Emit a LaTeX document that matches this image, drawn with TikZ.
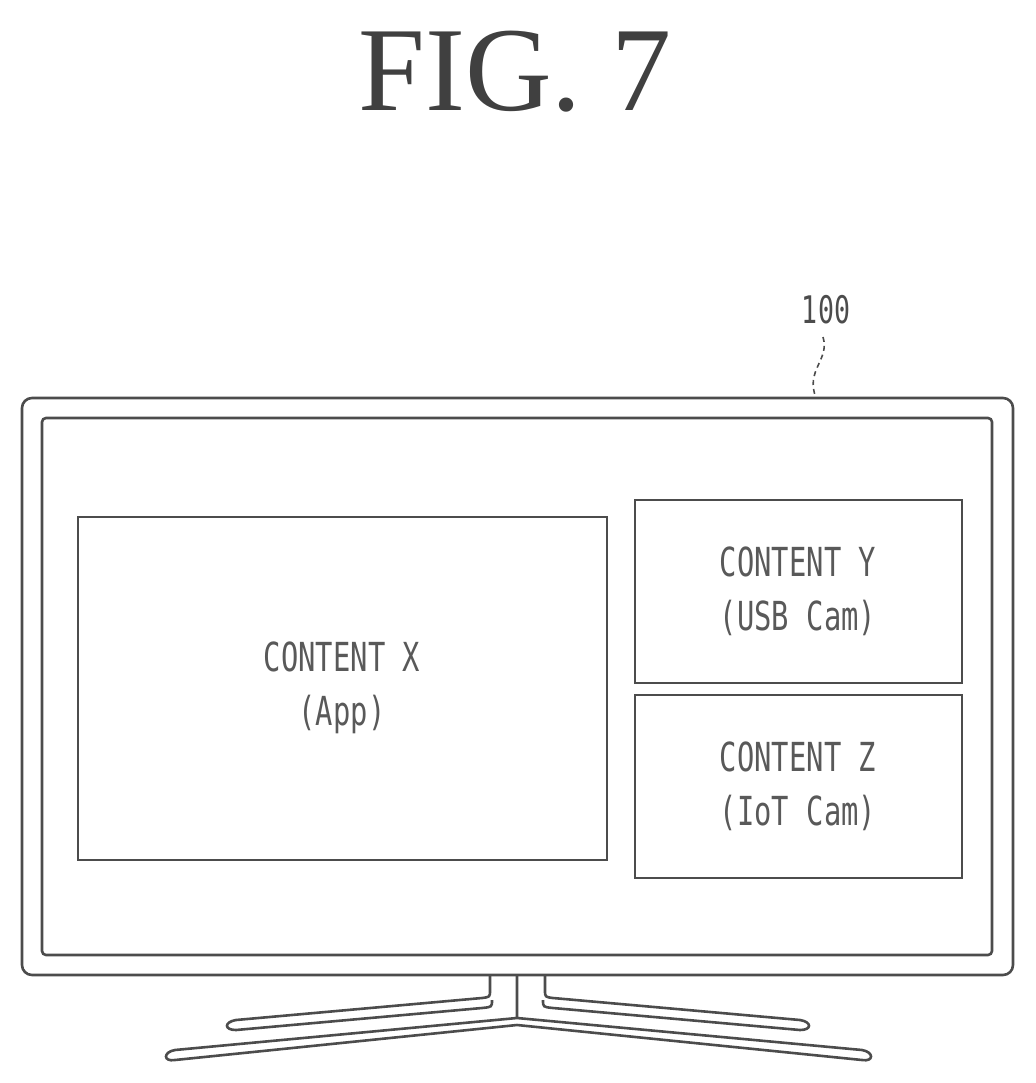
\documentclass[tikz,border=0pt]{standalone}
\usepackage{fontspec}
\setmainfont{Liberation Serif}
\setsansfont{DejaVu Sans Mono}
\begin{document}
\begin{tikzpicture}[x=1pt,y=-1pt,
  ln/.style={line width=2.6pt,draw=black!70},
  box/.style={ln,rectangle},
  lbl/.style={font=\sffamily\fontsize{40}{54}\selectfont,text=black!65,align=center,xscale=0.72}]
\useasboundingbox (0,0) rectangle (1035,1083);
\node[font=\fontsize{120}{120}\selectfont,text=black!75] (title) at (515,72) {FIG. 7};
\draw[ln,rounded corners=10] (22,398) rectangle (1013,975);
\draw[ln,rounded corners=4] (42,418) rectangle (992,955);
\draw[box] (78,517) rectangle (607,860);
\draw[box] (635,500) rectangle (962,683);
\draw[box] (635,695) rectangle (962,878);
\node[lbl] (x) at (342,688) {CONTENT X\\(App)};
\node[lbl] (y) at (798,591) {CONTENT Y\\(USB Cam)};
\node[lbl] (z) at (798,786) {CONTENT Z\\(IoT Cam)};
\node[font=\sffamily\fontsize{38}{38}\selectfont,text=black!70,xscale=0.7] (n100) at (826,310) {100};
\coordinate (t) at (816,398);
\draw[ln,line width=1.6pt,dash pattern=on 5pt off 4pt] (823,337) .. controls (830,360) and (805,370) .. (t);
% stand
\draw[ln] (490,975) -- (490,990) .. controls (490,997) .. (482,998) -- (236,1020) .. controls (224,1022) and (224,1030) .. (236,1030) -- (482,1008) .. controls (492,1007) .. (492,1000);
\draw[ln] (545,975) -- (545,990) .. controls (545,997) .. (553,998) -- (800,1020) .. controls (812,1022) and (812,1030) .. (800,1030) -- (553,1008) .. controls (543,1007) .. (543,1000);
\draw[ln] (517,975) -- (517,1018) -- (175,1050) .. controls (163,1052) and (163,1062) .. (175,1060) -- (517,1025) -- (862,1060) .. controls (874,1062) and (874,1052) .. (862,1050) -- (517,1018);
\end{tikzpicture}
\end{document}
